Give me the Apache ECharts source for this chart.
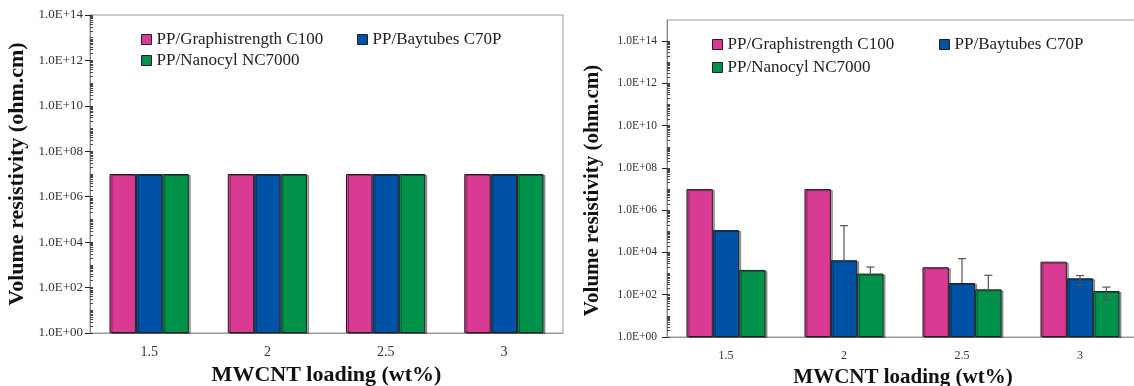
<!DOCTYPE html>
<html>
<head>
<meta charset="utf-8">
<script src="https://cdn.jsdelivr.net/npm/echarts@6/dist/echarts.min.js"></script>
<style>
  html, body { margin: 0; padding: 0; background: #fff; }
  #chart { width: 1134px; height: 386px; }
</style>
</head>
<body>
<div id="chart"></div>
<script>
// MWCNT loading (wt%)
const categories = ['1.5', '2', '2.5', '3'];
const seriesNames = ['PP/Graphistrength C100', 'PP/Baytubes C70P', 'PP/Nanocyl NC7000'];

// Left panel: volume resistivity (ohm.cm)
const leftGraphistrength = [1e7, 1e7, 1e7, 1e7];
const leftBaytubes = [1e7, 1e7, 1e7, 1e7];
const leftNanocyl = [1e7, 1e7, 1e7, 1e7];

// Right panel: volume resistivity (ohm.cm)
const rightGraphistrength = [1e7, 1e7, 2.0e3, 3.65e3];
const rightBaytubes = [1.15e5, 4.3e3, 3.6e2, 6.0e2];
const rightNanocyl = [1.5e3, 1.0e3, 1.8e2, 1.5e2];

// Right panel error bar limits (null = no whisker on that side)
const rightBaytubesErrLow = [null, null, null, 2.9e2];
const rightBaytubesErrHigh = [null, 1.85e5, 5.1e3, 8.1e2];
const rightNanocylErrLow = [null, null, null, 58];
const rightNanocylErrHigh = [null, 2.05e3, 8.3e2, 2.3e2];

// Y axis ticks
const tickValues = [1, 1e2, 1e4, 1e6, 1e8, 1e10, 1e12, 1e14];
const tickLabels = ['1.0E+00', '1.0E+02', '1.0E+04', '1.0E+06', '1.0E+08', '1.0E+10', '1.0E+12', '1.0E+14'];

const colors = ['#d83a94', '#0052a6', '#00924b'];
const serif = "'Liberation Serif', 'Times New Roman', serif";

// log minor ticks at 2..9 of every decade up to the last labelled tick
function minorTickValues(maxExp) {
  const out = [];
  for (let e = 0; e < maxExp; e++) {
    for (let m = 1; m <= 9; m++) out.push(m * Math.pow(10, e));
  }
  out.push(Math.pow(10, maxExp));
  return out;
}

function tickLabel(v) {
  const e = Math.round(Math.log10(v));
  return tickLabels[e / 2] || '';
}

const panels = [
  {
    grid: { left: 90, right: 571, top: 15, bottom: 53 },
    yMax: 1e14, labelSize: 13, catSize: 14, labelMargin: 7, catMargin: 12,
    yNameGap: 62, yNamePad: [0, 0, 0, 0], xNameGap: 31, nameSize: 22,
    values: [leftGraphistrength, leftBaytubes, leftNanocyl],
    legend: [[141, 31], [357, 31], [141, 52]]
  },
  {
    grid: { left: 667, right: -5, top: 20, bottom: 49 },
    yMax: 1e15, labelSize: 11.5, catSize: 12, labelMargin: 10, catMargin: 13,
    yNameGap: 64, yNamePad: [0, 24, 0, 0], xNameGap: 27, nameSize: 21,
    values: [rightGraphistrength, rightBaytubes, rightNanocyl],
    legend: [[712, 36], [939, 36], [712, 59]],
    errors: [
      { series: 1, low: rightBaytubesErrLow, high: rightBaytubesErrHigh },
      { series: 2, low: rightNanocylErrLow, high: rightNanocylErrHigh }
    ]
  }
];

const option = {
  animation: false,
  backgroundColor: '#fff',
  grid: [], xAxis: [], yAxis: [], series: [], legend: []
};

panels.forEach((p, g) => {
  option.grid.push(Object.assign({
    show: true, borderColor: '#9a9a9a', borderWidth: 1, backgroundColor: 'transparent',
    containLabel: false, outerBoundsMode: 'none'
  }, p.grid));
  const xMain = option.xAxis.length;
  // category axis: ticks at band edges
  option.xAxis.push({
    type: 'category', gridIndex: g, data: categories, position: 'bottom',
    axisLine: { lineStyle: { color: '#9a9a9a', width: 1 } },
    axisTick: { inside: true, length: 4, lineStyle: { color: '#333' } },
    axisLabel: { color: '#333', fontFamily: serif, fontSize: p.catSize, margin: p.catMargin },
    name: 'MWCNT loading (wt%)', nameLocation: 'middle', nameGap: p.xNameGap,
    nameTextStyle: { fontFamily: serif, fontWeight: 'bold', fontSize: p.nameSize, color: '#111', verticalAlign: 'top' }
  });
  // second category axis: ticks under each category label
  option.xAxis.push({
    type: 'category', gridIndex: g, data: categories, position: 'bottom',
    axisLine: { show: false }, axisLabel: { show: false },
    axisTick: { alignWithLabel: true, length: 4, lineStyle: { color: '#333' } }
  });
  const yMain = option.yAxis.length;
  option.yAxis.push({
    type: 'log', logBase: 10, gridIndex: g, min: 1, max: p.yMax, position: 'left',
    axisLine: { show: true, lineStyle: { color: '#8a8a8a', width: 1 } },
    axisTick: { show: true, length: 5, customValues: tickValues, lineStyle: { color: '#222' } },
    axisLabel: { customValues: tickValues, formatter: tickLabel, color: '#333', fontFamily: serif, fontSize: p.labelSize, margin: p.labelMargin },
    splitLine: { show: false },
    name: 'Volume resistivity (ohm.cm)', nameLocation: 'middle', nameGap: p.yNameGap,
    nameTextStyle: { fontFamily: serif, fontWeight: 'bold', fontSize: p.nameSize, color: '#111', padding: p.yNamePad }
  });
  // minor log ticks on the inner side of the value axis
  option.yAxis.push({
    type: 'log', logBase: 10, gridIndex: g, min: 1, max: p.yMax, position: 'left',
    axisLine: { show: false }, axisLabel: { show: false }, splitLine: { show: false },
    axisTick: { show: true, inside: true, length: 3, customValues: minorTickValues(14), lineStyle: { color: '#444' } }
  });

  p.values.forEach((vals, s) => {
    option.series.push({
      type: 'bar', name: seriesNames[s], xAxisIndex: xMain, yAxisIndex: yMain,
      data: vals, barGap: '0%', barCategoryGap: '33%',
      itemStyle: { color: colors[s], borderColor: '#222', borderWidth: 1,
        shadowColor: 'rgba(0,0,0,0.35)', shadowOffsetX: 2, shadowOffsetY: 1, shadowBlur: 0 },
      emphasis: { disabled: true }
    });
  });

  (p.errors || []).forEach(err => {
    const base = p.values[err.series];
    option.series.push({
      type: 'custom', name: seriesNames[err.series] + ' error', xAxisIndex: xMain, yAxisIndex: yMain, z: 10,
      data: categories.map((c, i) => [i, base[i]]),
      renderItem(params, api) {
        const i = params.dataIndex;
        const lo = err.low[i], hi = err.high[i];
        if (lo == null && hi == null) return null;
        const band = api.coord([1, base[i]])[0] - api.coord([0, base[i]])[0];
        const barW = band * 0.67 / 3;
        const x = api.coord([i, base[i]])[0] + (err.series - 1) * barW;
        const yTop = api.coord([i, hi != null ? hi : base[i]])[1];
        const yBot = api.coord([i, lo != null ? lo : base[i]])[1];
        const cap = 4;
        const style = { stroke: '#555', lineWidth: 1.2 };
        const children = [{ type: 'line', shape: { x1: x, y1: yTop, x2: x, y2: yBot }, style }];
        if (hi != null) children.push({ type: 'line', shape: { x1: x - cap, y1: yTop, x2: x + cap, y2: yTop }, style });
        if (lo != null) children.push({ type: 'line', shape: { x1: x - cap, y1: yBot, x2: x + cap, y2: yBot }, style });
        return { type: 'group', children };
      }
    });
  });

  p.legend.forEach((pos, s) => {
    option.legend.push({
      data: [seriesNames[s]], left: pos[0], top: pos[1], padding: 0,
      itemWidth: 10, itemHeight: 10, icon: 'rect', selectedMode: false,
      itemStyle: { borderColor: '#222', borderWidth: 1, shadowBlur: 0, shadowOffsetX: 0, shadowOffsetY: 0, shadowColor: 'transparent' },
      textStyle: { fontFamily: serif, fontSize: 17, color: '#222', padding: [0, 0, 0, 0] }
    });
  });
});

const chart = echarts.init(document.getElementById('chart'), null, { renderer: 'canvas' });
chart.setOption(option);
</script>
</body>
</html>
